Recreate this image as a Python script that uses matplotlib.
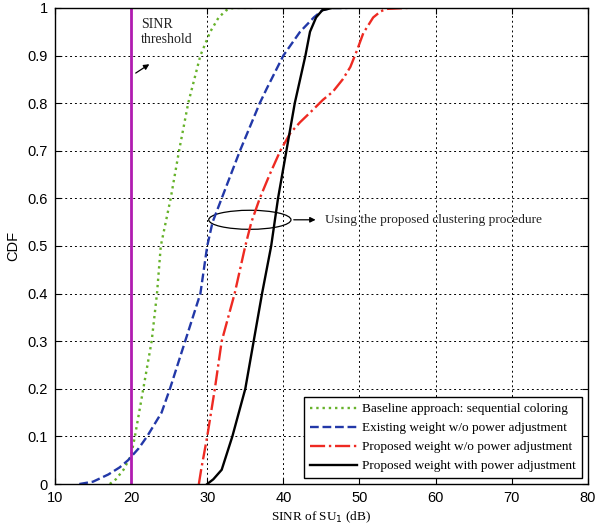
import matplotlib
matplotlib.use('Agg')
import matplotlib.pyplot as plt
from matplotlib.patches import Ellipse

# CDF curves
base_x = [17.2, 18, 19, 20, 20.5, 21.6, 22.7, 23.4, 23.9, 25.2, 26.3, 27.5, 29.1, 30.4, 31.5, 32.5, 33.4, 36.5]
base_y = [0, 0.01, 0.03, 0.06, 0.1, 0.2, 0.3, 0.4, 0.5, 0.6, 0.7, 0.8, 0.9, 0.95, 0.98, 0.995, 1, 1]

exist_x = [13.2, 15, 17, 18.5, 19.6, 21, 22.1, 24.0, 25.1, 27.1, 29.1, 30.0, 30.7, 31.9, 34.3, 36.9, 37.8,
           40.0, 42.2, 44, 45.2, 46.5, 48.4]
exist_y = [0, 0.005, 0.02, 0.035, 0.05, 0.075, 0.1, 0.15, 0.2, 0.3, 0.4, 0.5, 0.55, 0.6, 0.7, 0.8, 0.83,
           0.9, 0.95, 0.98, 0.996, 1, 1]

prop_x = [28.9, 29.2, 30.0, 31.0, 31.9, 33.6, 35.0, 35.8, 36.9, 38.2, 39.6, 40.9, 42.2, 43.5, 45.2, 46.5,
          47.8, 48.8, 49.7, 50.5, 51.8, 52.8, 53.6, 56.3]
prop_y = [0, 0.03, 0.1, 0.2, 0.3, 0.4, 0.5, 0.55, 0.6, 0.65, 0.7, 0.737, 0.76, 0.78, 0.807, 0.824,
          0.85, 0.876, 0.912, 0.947, 0.98, 0.993, 0.998, 1]

power_x = [30.0, 30.8, 31.9, 33.3, 35.0, 36.1, 37.2, 38.4, 39.3, 40.4, 41.5, 42.2, 42.9, 43.5, 44.3, 45.1, 46.4, 47.5]
power_y = [0, 0.01, 0.03, 0.1, 0.2, 0.3, 0.4, 0.5, 0.6, 0.7, 0.8, 0.85, 0.9, 0.95, 0.98, 0.995, 1, 1]

threshold = 20
xticks = [10, 20, 30, 40, 50, 60, 70, 80]
yticks = [0, 0.1, 0.2, 0.3, 0.4, 0.5, 0.6, 0.7, 0.8, 0.9, 1]

serif = ['Liberation Serif', 'DejaVu Serif']
sans = ['Liberation Sans', 'DejaVu Sans']

fig = plt.figure(figsize=(5.95, 5.29), dpi=100)
ax = fig.add_axes([0.0924, 0.085, 0.8956, 0.9])

ax.plot(base_x, base_y, linestyle=':', color='#66b22a', lw=1.7, label='Baseline approach: sequential coloring')
ax.plot(exist_x, exist_y, linestyle='--', color='#2238a8', lw=1.7, label='Existing weight w/o power adjustment')
ax.plot(prop_x, prop_y, linestyle='-.', color='#ee2a22', lw=1.7, label='Proposed weight w/o power adjustment')
ax.plot(power_x, power_y, linestyle='-', color='black', lw=1.7, label='Proposed weight with power adjustment')
ax.plot([threshold, threshold], [0, 1], color='#b01cb0', lw=2)

ax.set_xlim(10, 80)
ax.set_ylim(0, 1)
ax.set_xticks(xticks)
ax.set_yticks(yticks)
ax.set_xticklabels([str(t) for t in xticks], family=sans, fontsize=10.5)
ax.set_yticklabels(['0', '0.1', '0.2', '0.3', '0.4', '0.5', '0.6', '0.7', '0.8', '0.9', '1'],
                   family=sans, fontsize=10.5)
ax.tick_params(direction='in', top=True, right=True, length=4, pad=5)
ax.grid(True, color='black', linestyle=(0, (2, 3)), lw=0.7)
for s in ax.spines.values():
    s.set_linewidth(1.0)

ax.set_xlabel('SINR of SU$_1$ (dB)', family=serif, fontsize=9.5, labelpad=3)
ax.set_ylabel('CDF', family=sans, fontsize=10.5, labelpad=5)

# annotations
ax.text(21.3, 0.978, 'SINR\nthreshold', family=serif, fontsize=10, va='top', ha='left', color='#222222')
ax.annotate('', xy=(22.7, 0.885), xytext=(20.3, 0.86),
            arrowprops=dict(arrowstyle='-|>', color='black', lw=0.9, mutation_scale=8))
ax.add_patch(Ellipse((35.6, 0.555), 10.8, 0.04, fill=False, edgecolor='black', lw=0.9))
ax.annotate('', xy=(44.6, 0.555), xytext=(41.0, 0.555),
            arrowprops=dict(arrowstyle='-|>', color='black', lw=0.9, mutation_scale=8))
ax.text(45.5, 0.555, 'Using the proposed clustering procedure', family=serif, fontsize=9.6,
        va='center', ha='left', color='#222222')

leg = ax.legend(loc='lower right', prop={'family': serif, 'size': 9.5}, fancybox=False,
                edgecolor='black', framealpha=1, borderaxespad=0.45, handlelength=3.6,
                handletextpad=0.4, labelspacing=0.52, borderpad=0.43)
leg.get_frame().set_linewidth(1.0)

fig.savefig('out.png', dpi=100)
